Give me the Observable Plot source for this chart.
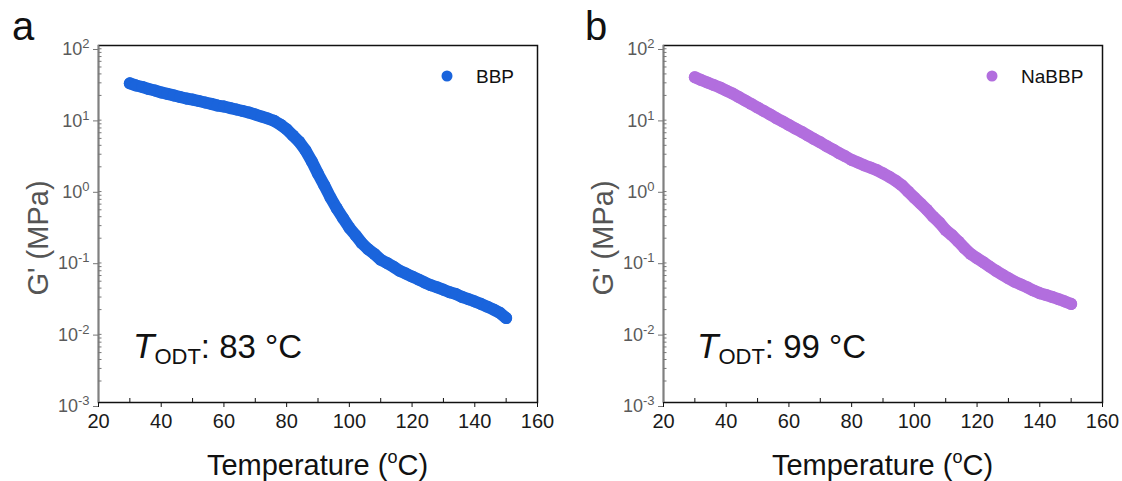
<!DOCTYPE html>
<html><head><meta charset="utf-8">
<script src="https://cdn.jsdelivr.net/npm/d3@7"></script>
<script src="https://cdn.jsdelivr.net/npm/@observablehq/plot@0.6"></script>
<style>
body{margin:0;background:#fff;}
#wrap{position:relative;width:1122px;height:481px;overflow:hidden;font-family:Arial,"Liberation Sans",sans-serif;}
.panel{position:absolute;top:0;width:561px;height:481px;}
#ov{position:absolute;left:0;top:0;}
</style></head><body><div id="wrap"></div>
<script>
// Temperature (°C) of each reading
const temperature = [30,32,34,36,38,40,42,44,46,48,50,52,54,56,58,60,62,64,66,68,70,72,74,76,78,80,82,84,86,88,90,92,94,96,98,100,102,104,106,108,110,112,114,116,118,120,122,124,126,128,130,132,134,136,138,140,142,144,146,148,150];
// G' (MPa), panel a (BBP)
const gBBP = [29.5,27.5,26.2,24.6,23.4,22.0,21.0,20.0,19.0,18.1,17.5,16.7,15.9,15.2,14.4,14.0,13.3,12.7,12.1,11.5,10.8,10.1,9.5,8.8,7.8,6.7,5.5,4.5,3.4,2.4,1.6,1.1,0.74,0.52,0.38,0.28,0.22,0.17,0.14,0.12,0.10,0.090,0.080,0.070,0.064,0.058,0.053,0.048,0.044,0.041,0.038,0.035,0.033,0.030,0.028,0.026,0.024,0.022,0.020,0.018,0.0152];
// G' (MPa), panel b (NaBBP)
const gNaBBP = [36,32.9,30.3,28.0,25.8,23.4,21.3,19.0,17.0,15.2,13.5,12.1,10.8,9.6,8.6,7.7,6.9,6.2,5.5,4.9,4.4,3.9,3.5,3.1,2.8,2.5,2.3,2.1,1.95,1.8,1.62,1.45,1.28,1.1,0.9,0.74,0.61,0.50,0.40,0.33,0.26,0.22,0.18,0.145,0.12,0.105,0.092,0.080,0.070,0.062,0.055,0.049,0.045,0.041,0.037,0.034,0.032,0.030,0.028,0.026,0.024];
const xTicks = [20,40,60,80,100,120,140,160];
const xMinorTicks = [30,50,70,90,110,130,150];
const yTicks = [1e-3,1e-2,1e-1,1e0,1e1,1e2];
const yExponents = ["-3","-2","-1","0","1","2"];
const panelLetters = ["a","b"];
const seriesNames = ["BBP","NaBBP"];
const todtValues = ["83","99"];
const colors = ["#1a64dc","#b26ede"];

const yMinorTicks = [];
yTicks.slice(0,-1).forEach(t => { for (let m = 2; m <= 9; m++) yMinorTicks.push(m*t); });

const FONT = "Arial, 'Liberation Sans', sans-serif";
const wrap = document.getElementById("wrap");

function makePanel(values, color, left, mLeft, mRight) {
  const data = temperature.map((t,i) => ({t, g: values[i]}));
  const p = Plot.plot({
    width: 561, height: 481,
    marginLeft: mLeft, marginRight: mRight, marginTop: 45, marginBottom: 79,
    style: {fontFamily: FONT, background: "transparent", overflow: "visible"},
    x: {domain: [20,160]},
    y: {type: "log", domain: [1e-3,1e2]},
    marks: [
      Plot.line(data, {x:"t", y:"g", stroke: color, strokeWidth: 12, strokeLinecap: "round", strokeLinejoin: "round"}),
      Plot.dot(data, {x:"t", y:"g", r: 6, fill: color, stroke: "none"}),
      Plot.frame({stroke: "#111", strokeWidth: 1.5}),
      Plot.ruleX([20], {stroke: "#808080", strokeWidth: 1.5}),
      Plot.axisX({ticks: xMinorTicks, tickSize: -4, tickFormat: () => "", stroke: "#111", label: null}),
      Plot.axisX({ticks: xTicks, tickSize: 5, tickPadding: 6, fontSize: 20, fill: "#1a1a1a", stroke: "#111", label: null}),
      Plot.axisY({ticks: yMinorTicks, tickSize: -3.5, tickFormat: () => "", stroke: "#777", label: null}),
      Plot.axisY({ticks: yTicks, tickSize: 5, tickPadding: 4, dy: 4, fontSize: 18, fill: "#5a5a5a", stroke: "#777",
        tickFormat: d => "10^" + yExponents[yTicks.indexOf(d)], label: null})
    ]
  });
  // superscript exponents
  d3.select(p).selectAll('g[aria-label="y-axis tick label"] text').each(function() {
    const s = d3.select(this);
    const txt = s.text();
    if (!txt.includes("^")) return;
    const [base, ex] = txt.split("^");
    s.text("");
    s.append("tspan").text(base);
    s.append("tspan").attr("dy", "-0.55em").attr("font-size", 13).text(ex);
  });
  const div = document.createElement("div");
  div.className = "panel";
  div.style.left = left + "px";
  div.appendChild(p);
  wrap.appendChild(div);
}

makePanel(gBBP, colors[0], 0, 98, 24);
makePanel(gNaBBP, colors[1], 561, 102, 20);

// annotations overlay
const svg = d3.select(wrap).append("svg").attr("id","ov").attr("width",1122).attr("height",481)
  .style("font-family", FONT);
const offsets = [0, 565];
offsets.forEach((o, i) => {
  const cx = 98 + o + 219.5;
  svg.append("text").attr("x", 12 + o + (i ? 8 : 0)).attr("y", 40).attr("font-size", 40).attr("fill", "#111").text(panelLetters[i]);
  const tx = svg.append("text").attr("x", cx).attr("y", 475).attr("text-anchor","middle").attr("font-size", 29).attr("fill","#111");
  tx.append("tspan").text("Temperature (");
  tx.append("tspan").attr("dy", -12).attr("font-size", 18).text("o");
  tx.append("tspan").attr("dy", 12).text("C)");
  svg.append("text").attr("transform", `translate(${48 + o},238) rotate(-90)`).attr("text-anchor","middle")
    .attr("font-size", 29).attr("fill","#555").text("G' (MPa)");
  const t = svg.append("text").attr("x", 133 + o - (i ? 1 : 0)).attr("y", 358).attr("font-size", 33).attr("fill","#111");
  t.append("tspan").attr("font-style","italic").attr("font-size", 35).text("T");
  t.append("tspan").attr("font-size", 22).attr("dy", 6).text("ODT");
  t.append("tspan").attr("dy", -6).text(": " + todtValues[i] + " °C");
  const lx = i ? 992 : 447;
  svg.append("circle").attr("cx", lx).attr("cy", 76).attr("r", 5.5).attr("fill", colors[i]);
  svg.append("text").attr("x", lx + 29).attr("y", 83).attr("font-size", 19).attr("fill","#111").text(seriesNames[i]);
});
</script></body></html>
